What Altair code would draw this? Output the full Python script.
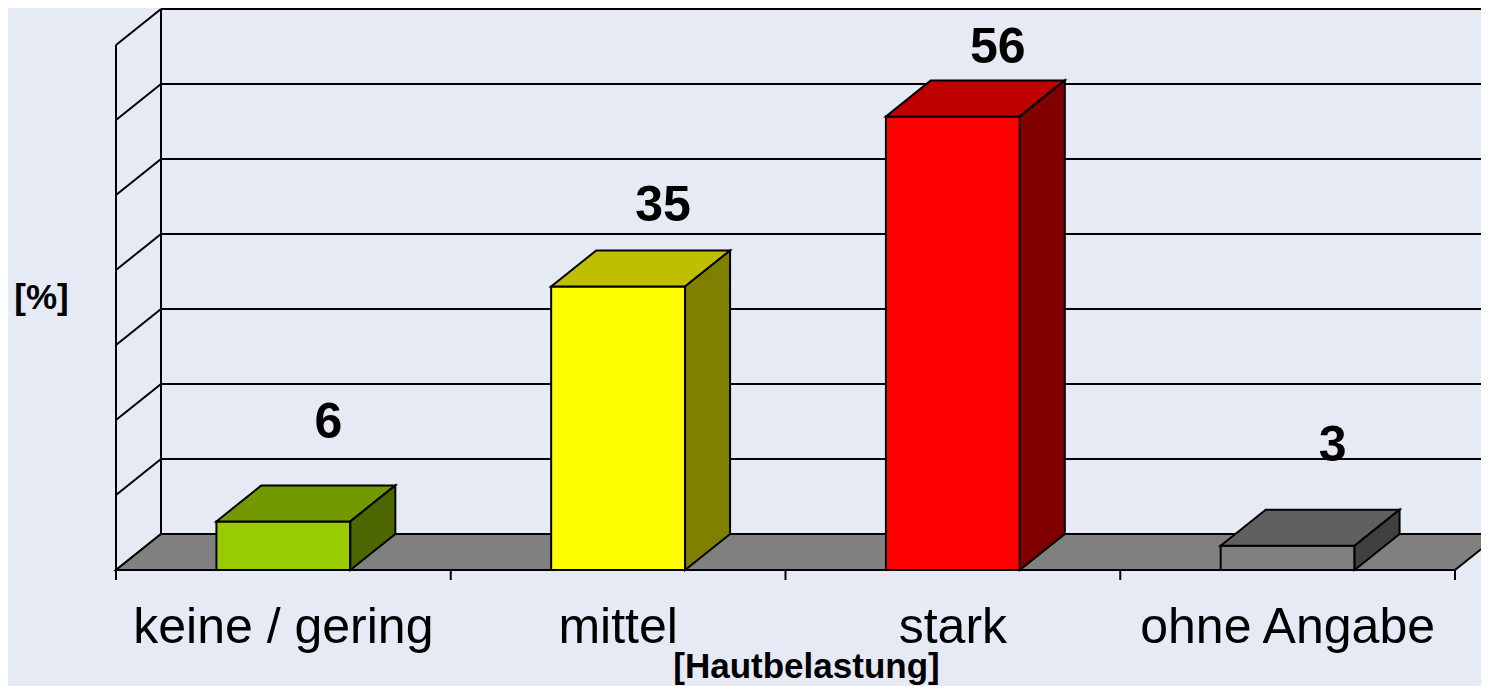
import altair as alt
import pandas as pd

# ---------------- data ----------------
categories = ["keine / gering", "mittel", "stark", "ohne Angabe"]
values = [6, 35, 56, 3]
grid_levels = [0, 10, 20, 30, 40, 50, 60, 70]

# ---------------- style ----------------
front_colors = ["#99CC00", "#FFFF00", "#FF0000", "#808080"]
top_colors = ["#739900", "#BFBF00", "#BF0000", "#606060"]
side_colors = ["#4D6600", "#808000", "#800000", "#404040"]
BG = "#E6EAF5"
FLOOR = "#808080"
FONT = "Liberation Sans"

# ---------------- layout (pixels) ----------------
W, H = 1473, 678
ORIGIN_X, ORIGIN_Y = 108, 562      # plot-pixel position of category 0 / value 0 (front)
PX_CAT = 334.75                    # pixels per category
PX_PCT = 8.1                       # pixels per percent (bars)
GRID_PX = 7.5                      # pixels per percent (walls)
DX = 45 / PX_CAT                   # depth offset in category units
DY = 36 / PX_PCT                   # depth offset in percent units
HALF = 0.2                         # half bar width in category units
GF = GRID_PX / PX_PCT
LIFT = 66 / PX_PCT
TICK = 10 / PX_PCT
NCAT = len(categories)

xs = alt.Scale(domain=[-ORIGIN_X / PX_CAT, (W - ORIGIN_X) / PX_CAT], nice=False, zero=False)
ys = alt.Scale(domain=[-(H - ORIGIN_Y) / PX_PCT, ORIGIN_Y / PX_PCT], nice=False, zero=False)
XMAX = (W - ORIGIN_X) / PX_CAT

# ---------------- derived tables ----------------
segs = []
top_g = grid_levels[-1] * GF
for g in grid_levels:
    # back wall gridline
    segs.append(dict(x=DX, x2=XMAX, y=DY + g * GF, y2=DY + g * GF))
    # left wall diagonal
    segs.append(dict(x=0, x2=DX, y=g * GF, y2=DY + g * GF))
# left wall verticals
segs.append(dict(x=0, x2=0, y=-TICK, y2=top_g))
segs.append(dict(x=DX, x2=DX, y=DY, y2=DY + top_g))
# front axis line + ticks
segs.append(dict(x=0, x2=NCAT, y=0, y2=0))
for k in range(NCAT + 1):
    segs.append(dict(x=k, x2=k, y=-TICK, y2=0))
seg_df = pd.DataFrame(segs)

floor_df = pd.DataFrame([
    dict(y=0, x=0, x2=NCAT),
    dict(y=DY, x=DX, x2=NCAT + DX),
])

front_rows, top_rows, side_rows, lab_rows = [], [], [], []
for i, (cat, v) in enumerate(zip(categories, values)):
    c = i + 0.5
    front_rows.append(dict(cat=cat, x=c - HALF, x2=c + HALF, y=0, y2=v, col=front_colors[i]))
    top_rows.append(dict(cat=cat, y=v, x=c - HALF, x2=c + HALF, col=top_colors[i]))
    top_rows.append(dict(cat=cat, y=v + DY, x=c - HALF + DX, x2=c + HALF + DX, col=top_colors[i]))
    side_rows.append(dict(cat=cat, x=c + HALF, y=0, y2=v, col=side_colors[i]))
    side_rows.append(dict(cat=cat, x=c + HALF + DX, y=DY, y2=v + DY, col=side_colors[i]))
    lab_rows.append(dict(cat=cat, x=c + DX, y=DY + v * GF + LIFT, lab=str(v), cx=c))
front_df = pd.DataFrame(front_rows)
top_df = pd.DataFrame(top_rows)
side_df = pd.DataFrame(side_rows)
lab_df = pd.DataFrame(lab_rows)

# ---------------- layers ----------------
lines = alt.Chart(seg_df).mark_rule(color="black", strokeWidth=2).encode(
    x=alt.X("x:Q", scale=xs, axis=None), x2="x2:Q",
    y=alt.Y("y:Q", scale=ys, axis=None), y2="y2:Q",
)

floor = alt.Chart(floor_df).mark_area(
    orient="horizontal", fill=FLOOR, stroke="black", strokeWidth=2
).encode(
    y=alt.Y("y:Q", scale=ys, axis=None, stack=None),
    x=alt.X("x:Q", scale=xs, axis=None, stack=None), x2="x2:Q",
)

fronts = alt.Chart(front_df).mark_rect(stroke="black", strokeWidth=2).encode(
    x=alt.X("x:Q", scale=xs, axis=None), x2="x2:Q",
    y=alt.Y("y:Q", scale=ys, axis=None), y2="y2:Q",
    fill=alt.Fill("col:N", scale=None),
)

tops = alt.Chart(top_df).mark_area(
    orient="horizontal", stroke="black", strokeWidth=2
).encode(
    y=alt.Y("y:Q", scale=ys, axis=None, stack=None),
    x=alt.X("x:Q", scale=xs, axis=None, stack=None), x2="x2:Q",
    fill=alt.Fill("col:N", scale=None),
    detail="cat:N",
)

sides = alt.Chart(side_df).mark_area(
    orient="vertical", stroke="black", strokeWidth=2
).encode(
    x=alt.X("x:Q", scale=xs, axis=None, stack=None),
    y=alt.Y("y:Q", scale=ys, axis=None, stack=None), y2="y2:Q",
    fill=alt.Fill("col:N", scale=None),
    detail="cat:N",
)

val_text = alt.Chart(lab_df).mark_text(
    font=FONT, fontSize=50, fontWeight="bold", color="black", baseline="middle", align="center"
).encode(
    x=alt.X("x:Q", scale=xs, axis=None),
    y=alt.Y("y:Q", scale=ys, axis=None),
    text="lab:N",
)

cat_text = alt.Chart(lab_df).mark_text(
    font=FONT, fontSize=50, color="black", baseline="alphabetic", align="center"
).encode(
    x=alt.X("cx:Q", scale=xs, axis=None),
    y=alt.value(634.7),
    text="cat:N",
)

xtitle = alt.Chart(pd.DataFrame({"t": ["[Hautbelastung]"]})).mark_text(
    font=FONT, fontSize=35, fontWeight="bold", color="black", baseline="alphabetic", align="center"
).encode(x=alt.value(798.5), y=alt.value(670), text="t:N")

ytitle = alt.Chart(pd.DataFrame({"t": ["[%]"]})).mark_text(
    font=FONT, fontSize=35, fontWeight="bold", color="black", baseline="alphabetic", align="center"
).encode(x=alt.value(33.5), y=alt.value(300.6), text="t:N")

chart = alt.layer(
    lines, floor, fronts, tops, sides, val_text, cat_text, xtitle, ytitle
).properties(
    width=W, height=H, background=BG, padding=0,
    autosize=alt.AutoSizeParams(type="none"),
).configure_view(stroke=None, fill=BG)

chart.save("out.html", embed_options={"renderer": "svg", "actions": False})
